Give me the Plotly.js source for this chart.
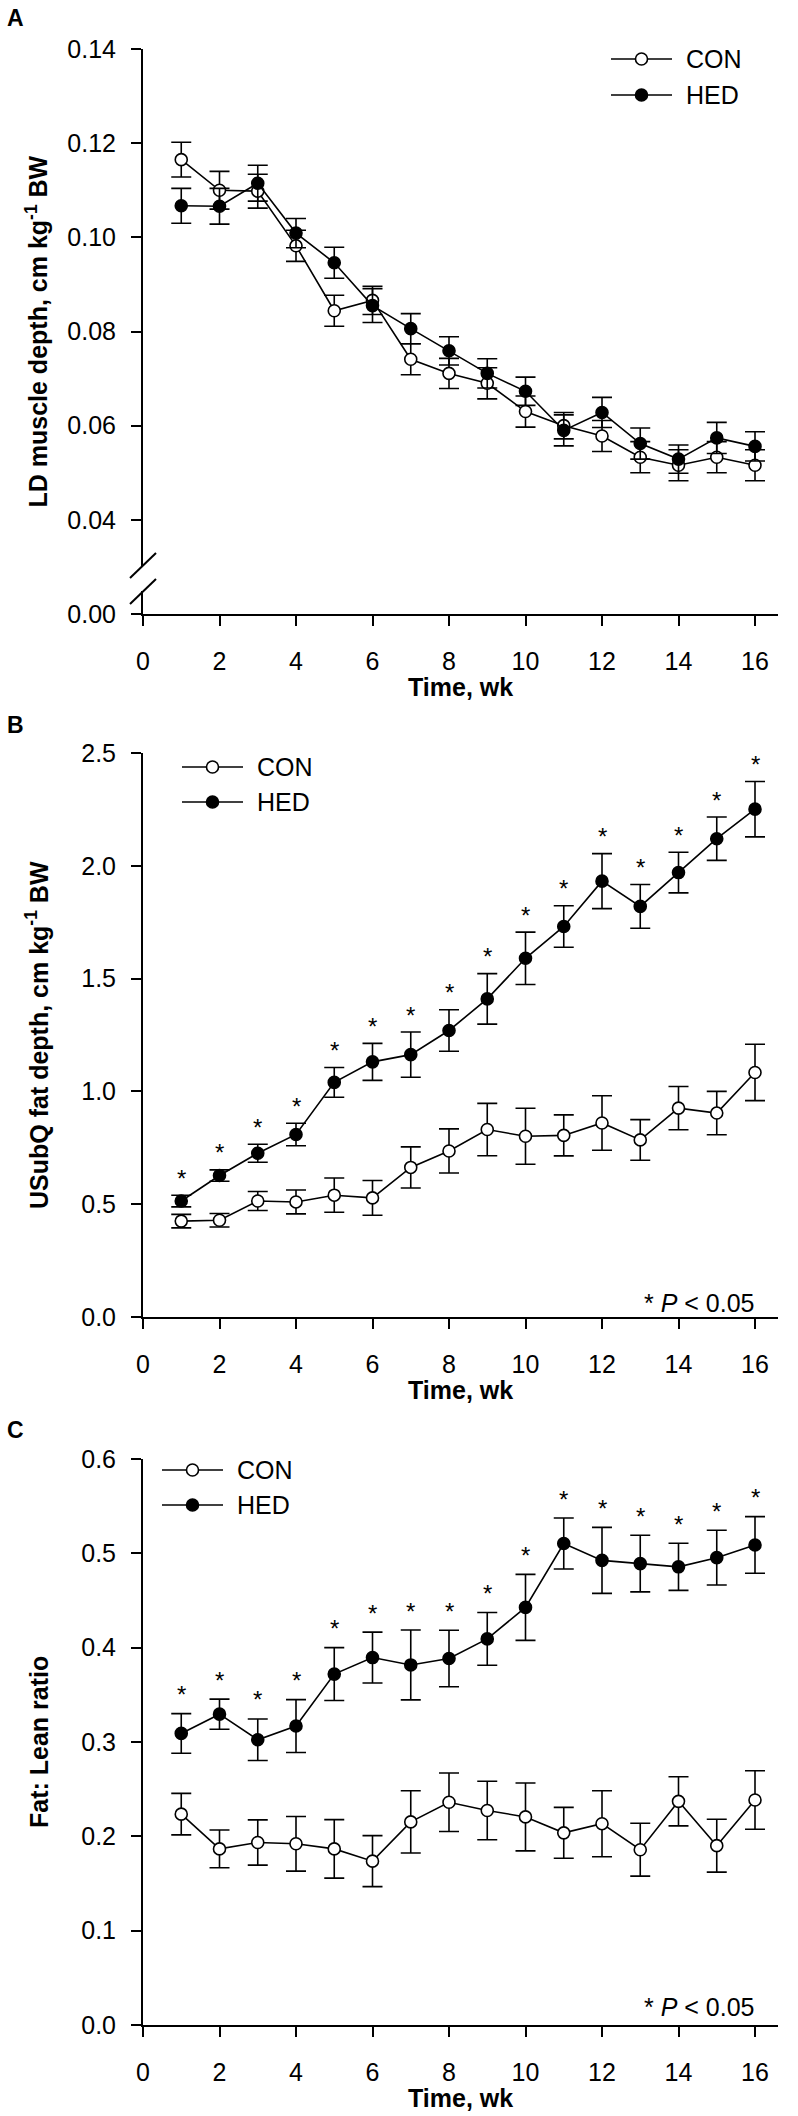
<!DOCTYPE html>
<html>
<head>
<meta charset="utf-8">
<script src="https://cdn.plot.ly/plotly-3.0.1.min.js"></script>
<style>html,body{margin:0;padding:0;background:#fff;}#chart{width:798px;height:2116px;}</style>
</head>
<body>
<div id="chart"></div>
<script>
// ---------------- data ----------------
const weeks = [1,2,3,4,5,6,7,8,9,10,11,12,13,14,15,16];
const xTickVals = [0,2,4,6,8,10,12,14,16];

// Panel A: LD muscle depth, cm/kg BW
const conA    = [0.1165,0.1100,0.1098,0.0982,0.0844,0.0866,0.0741,0.0711,0.0690,0.0630,0.0600,0.0578,0.0533,0.0516,0.0533,0.0516];
const conAErr = [0.0037,0.0040,0.0036,0.0033,0.0033,0.0030,0.0033,0.0032,0.0033,0.0033,0.0028,0.0033,0.0033,0.0033,0.0033,0.0033];
const hedA    = [0.1067,0.1066,0.1115,0.1009,0.0946,0.0855,0.0806,0.0759,0.0711,0.0673,0.0590,0.0628,0.0562,0.0529,0.0574,0.0556];
const hedAErr = [0.0037,0.0038,0.0038,0.0031,0.0033,0.0036,0.0032,0.0030,0.0031,0.0030,0.0033,0.0032,0.0033,0.0030,0.0033,0.0031];
const yTickValsA = [0.02,0.04,0.06,0.08,0.10,0.12,0.14];
const yTickTextA = ["0.00","0.04","0.06","0.08","0.10","0.12","0.14"];

// Panel B: USubQ fat depth, cm/kg BW
const conB    = [0.425,0.429,0.514,0.510,0.540,0.528,0.663,0.736,0.831,0.801,0.805,0.860,0.785,0.926,0.904,1.084];
const conBErr = [0.030,0.030,0.042,0.053,0.076,0.077,0.091,0.098,0.116,0.124,0.091,0.121,0.090,0.096,0.096,0.125];
const hedB    = [0.514,0.627,0.726,0.809,1.040,1.131,1.163,1.270,1.410,1.590,1.731,1.932,1.820,1.970,2.120,2.251];
const hedBErr = [0.026,0.025,0.040,0.050,0.066,0.082,0.100,0.092,0.112,0.116,0.092,0.122,0.097,0.090,0.096,0.123];
const sigB    = [1,1,1,1,1,1,1,1,1,1,1,1,1,1,1,1];

// Panel C: Fat:Lean ratio
const conC    = [0.2235,0.1867,0.1935,0.1921,0.1867,0.1737,0.2153,0.2361,0.2274,0.2206,0.2037,0.2134,0.1858,0.2371,0.1901,0.2385];
const conCErr = [0.022,0.020,0.024,0.029,0.031,0.027,0.033,0.031,0.031,0.036,0.027,0.035,0.028,0.026,0.028,0.031];
const hedC    = [0.3091,0.3295,0.3024,0.3169,0.3720,0.3895,0.3817,0.3885,0.4093,0.4427,0.5104,0.4925,0.4891,0.4857,0.4954,0.5089];
const hedCErr = [0.021,0.016,0.022,0.028,0.028,0.027,0.037,0.030,0.028,0.035,0.027,0.035,0.030,0.025,0.029,0.030];
const sigC    = [1,1,1,1,1,1,1,1,1,1,1,1,1,1,1,1];

const seriesNames = ["CON","HED"];
const xTitle = "Time, wk";
const yTitles = ["LD muscle depth, cm kg<sup>-1</sup> BW", "USubQ fat depth, cm kg<sup>-1</sup> BW", "Fat: Lean ratio"];
const panelLetters = ["A","B","C"];
const sigNote = "* <i>P</i> &lt; 0.05";

// ---------------- layout helpers ----------------
const W = 798, H = 2116;
const FONT = "Liberation Sans, Arial, Helvetica, sans-serif";
const px = x => x / W;
const py = y => 1 - y / H;

const xLeft = 143, pxPerWk = 38.25, xMax = 16.6;
const xRight = xLeft + pxPerWk * xMax;
const panels = [
  {top: 49,   bottom: 614,  range: [0.02, 0.14], legX: 611, legY: [59, 95],    letterY: 18,   note: false, noteY: 0,    titleX: 36},
  {top: 753,  bottom: 1317, range: [0, 2.5],     legX: 182, legY: [767, 802],  letterY: 725,  note: true,  noteY: 1303, titleX: 37},
  {top: 1459, bottom: 2025, range: [0, 0.6],     legX: 162, legY: [1470, 1505],letterY: 1430, note: true,  noteY: 2007, titleX: 39}
];

function errBar(arr) {
  return {type: 'data', array: arr, symmetric: true, visible: true, color: '#000', thickness: 1.6, width: 10};
}
function series(x, y, err, filled, xa, ya, name) {
  return {
    x: x, y: y, name: name, xaxis: xa, yaxis: ya, type: 'scatter', mode: 'lines+markers',
    line: {color: '#000', width: 1.6},
    marker: {symbol: 'circle', size: 12, color: filled ? '#000' : '#fff', line: {color: '#000', width: 1.6}},
    error_y: errBar(err), showlegend: false, cliponaxis: false
  };
}

const data = [
  series(weeks, conA, conAErr, false, 'x', 'y', seriesNames[0]),
  series(weeks, hedA, hedAErr, true, 'x', 'y', seriesNames[1]),
  series(weeks, conB, conBErr, false, 'x2', 'y2', seriesNames[0]),
  series(weeks, hedB, hedBErr, true, 'x2', 'y2', seriesNames[1]),
  series(weeks, conC, conCErr, false, 'x3', 'y3', seriesNames[0]),
  series(weeks, hedC, hedCErr, true, 'x3', 'y3', seriesNames[1])
];

function xAxis(i) {
  return {
    domain: [px(xLeft), px(xRight)], anchor: i === 0 ? 'y' : 'y' + (i + 1),
    range: [0, xMax], tickvals: xTickVals, ticktext: xTickVals.map(String),
    ticks: 'outside', ticklen: 10, tickwidth: 2, tickcolor: '#000',
    showline: true, linewidth: 2, linecolor: '#000', showgrid: false, zeroline: false,
    tickfont: {family: FONT, size: 25, color: '#000'}, ticklabelstandoff: 14, fixedrange: true
  };
}
function yAxis(i) {
  const p = panels[i];
  const ax = {
    domain: [py(p.bottom), py(p.top)], anchor: i === 0 ? 'x' : 'x' + (i + 1),
    range: p.range, ticks: 'outside', ticklen: 10, tickwidth: 2, tickcolor: '#000',
    showline: true, linewidth: 2, linecolor: '#000', showgrid: false, zeroline: false,
    tickfont: {family: FONT, size: 25, color: '#000'}, ticklabelstandoff: 10, fixedrange: true
  };
  if (i === 0) { ax.tickvals = yTickValsA; ax.ticktext = yTickTextA; }
  else if (i === 1) { ax.dtick = 0.5; ax.tick0 = 0; ax.tickformat = '.1f'; }
  else { ax.dtick = 0.1; ax.tick0 = 0; ax.tickformat = '.1f'; }
  return ax;
}

const annotations = [];
const shapes = [];

panels.forEach((p, i) => {
  annotations.push({xref: 'paper', yref: 'paper', x: px(5), y: py(p.letterY), xanchor: 'left', yanchor: 'middle',
    text: '<b>' + panelLetters[i] + '</b>', showarrow: false, font: {family: FONT, size: 23, color: '#000'}});
  annotations.push({xref: 'paper', yref: 'paper', x: px((xLeft + xRight) / 2), y: py(p.bottom + 73), xanchor: 'center', yanchor: 'middle',
    text: '<b>' + xTitle + '</b>', showarrow: false, font: {family: FONT, size: 25, color: '#000'}});
  annotations.push({xref: 'paper', yref: 'paper', x: px(p.titleX), y: py((p.top + p.bottom) / 2), xanchor: 'center', yanchor: 'middle',
    text: '<b>' + yTitles[i] + '</b>', textangle: -90, showarrow: false, font: {family: FONT, size: 25, color: '#000'}});
  if (p.note) {
    annotations.push({xref: 'paper', yref: 'paper', x: px(xLeft + pxPerWk * 16 + 2), y: py(p.noteY), xanchor: 'right', yanchor: 'middle',
      text: sigNote, showarrow: false, font: {family: FONT, size: 25, color: '#000'}});
  }
  [0, 1].forEach(k => {
    const ly = py(p.legY[k]);
    shapes.push({type: 'line', xref: 'paper', yref: 'paper', x0: px(p.legX), x1: px(p.legX + 61), y0: ly, y1: ly,
      line: {color: '#000', width: 1.6}, layer: 'above'});
    shapes.push({type: 'circle', xref: 'paper', yref: 'paper', xsizemode: 'pixel', ysizemode: 'pixel',
      xanchor: px(p.legX + 30.5), yanchor: ly, x0: -6, x1: 6, y0: -6, y1: 6,
      fillcolor: k === 0 ? '#fff' : '#000', line: {color: '#000', width: 1.6}, layer: 'above'});
    annotations.push({xref: 'paper', yref: 'paper', x: px(p.legX + 73), y: ly, xanchor: 'left', yanchor: 'middle',
      text: seriesNames[k], showarrow: false, font: {family: FONT, size: 25, color: '#000'}});
  });
});

function addStars(vals, errs, sig, xa, ya, shift) {
  weeks.forEach((w, j) => {
    if (!sig[j]) return;
    annotations.push({xref: xa, yref: ya, x: w, y: vals[j] + errs[j], xanchor: 'center', yanchor: 'middle',
      yshift: shift, text: '*', showarrow: false, font: {family: FONT, size: 24, color: '#000'}});
  });
}
addStars(hedB, hedBErr, sigB, 'x2', 'y2', 17);
addStars(hedC, hedCErr, sigC, 'x3', 'y3', 19);

// axis break on panel A
shapes.push({type: 'rect', xref: 'paper', yref: 'paper', x0: px(138), x1: px(148), y0: py(591), y1: py(566),
  fillcolor: '#fff', line: {width: 0}, layer: 'above'});
shapes.push({type: 'line', xref: 'paper', yref: 'paper', x0: px(130), y0: py(578), x1: px(156), y1: py(553),
  line: {color: '#000', width: 2}, layer: 'above'});
shapes.push({type: 'line', xref: 'paper', yref: 'paper', x0: px(130), y0: py(604), x1: px(156), y1: py(579),
  line: {color: '#000', width: 2}, layer: 'above'});

const layout = {
  width: W, height: H, margin: {l: 0, r: 0, t: 0, b: 0},
  paper_bgcolor: '#fff', plot_bgcolor: '#fff', showlegend: false,
  font: {family: FONT, color: '#000'},
  xaxis: xAxis(0), yaxis: yAxis(0),
  xaxis2: xAxis(1), yaxis2: yAxis(1),
  xaxis3: xAxis(2), yaxis3: yAxis(2),
  annotations: annotations, shapes: shapes
};

Plotly.newPlot('chart', data, layout, {displayModeBar: false, staticPlot: true});
</script>
</body>
</html>
